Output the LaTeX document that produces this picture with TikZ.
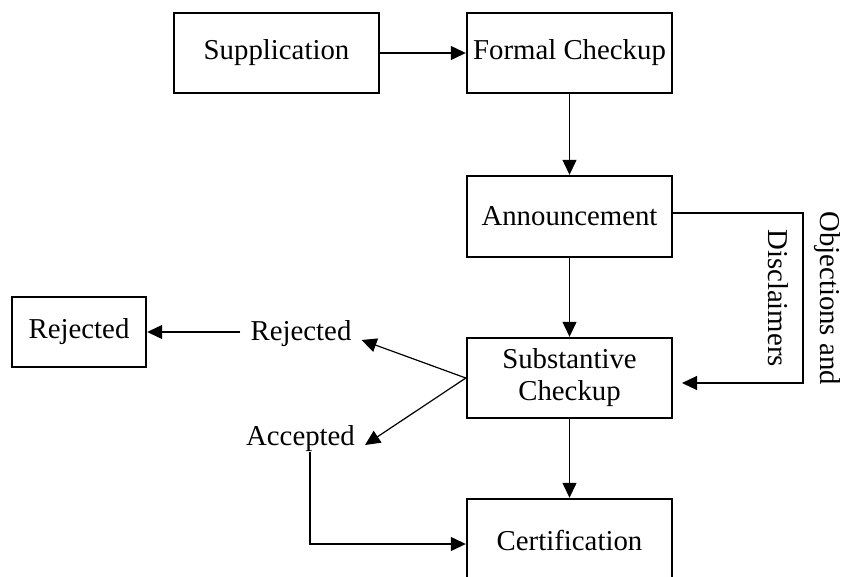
\documentclass[tikz,border=0pt]{standalone}
\usepackage{fontspec}
\setmainfont{Liberation Serif}
\usetikzlibrary{arrows.meta}

\begin{document}
\begin{tikzpicture}[x=1pt,y=-1pt,
	font=\fontsize{28.8pt}{32pt}\selectfont,
	box/.style={draw, line width=2.4pt, inner sep=0pt, minimum width=205pt, minimum height=80pt, align=center},
	lbl/.style={inner xsep=10pt, inner ysep=1pt},
	arr/.style={line width=1.2pt, -{Triangle[length=15pt,width=14pt]}}]
\useasboundingbox (0,0) rectangle (842,576);
% main line of steps
\node[box] (supp) at (276.5,53) {Supplication};
\node[box] (formal) at (569.5,53) {Formal Checkup};
\node[box, minimum height=81pt] (announce) at (569.5,216.5) {Announcement};
\node[box] (subst) at (569.5,378) {Substantive\\Checkup};
\node[box, minimum height=82pt] (cert) at (569.5,540) {Certification};
\node[box, minimum width=134pt, minimum height=70pt] (rejbox) at (79,332) {Rejected};
% outcomes
\node[lbl, anchor=base] (rejlbl) at (301,340) {Rejected};
\node[lbl, anchor=base] (acclbl) at (300.5,445) {Accepted};
\node[rotate=-90, align=center, font=\fontsize{28.8pt}{52pt}\selectfont] (objlbl) at (804,298) {Objections and\\Disclaimers};
\coordinate (objcorner) at (803,383);
\coordinate (objtip) at (682,383);

\draw[arr] (supp) -- (formal);
\draw[arr] (formal) -- (announce);
\draw[arr] (announce) -- (subst);
\draw[arr] (subst) -- (cert);
\draw[arr] ([yshift=3.5pt]announce.east) -| (objcorner) -- (objtip);
\draw[arr] (subst.west) -- (rejlbl.base east);
\draw[arr] (subst.west) -- (acclbl.base east);
\draw[arr] (rejlbl.west |- rejbox.east) -- (rejbox.east);
\draw[arr] ([xshift=9.5pt]acclbl.south) |- ([yshift=-4pt]cert.west);
\end{tikzpicture}
\end{document}
